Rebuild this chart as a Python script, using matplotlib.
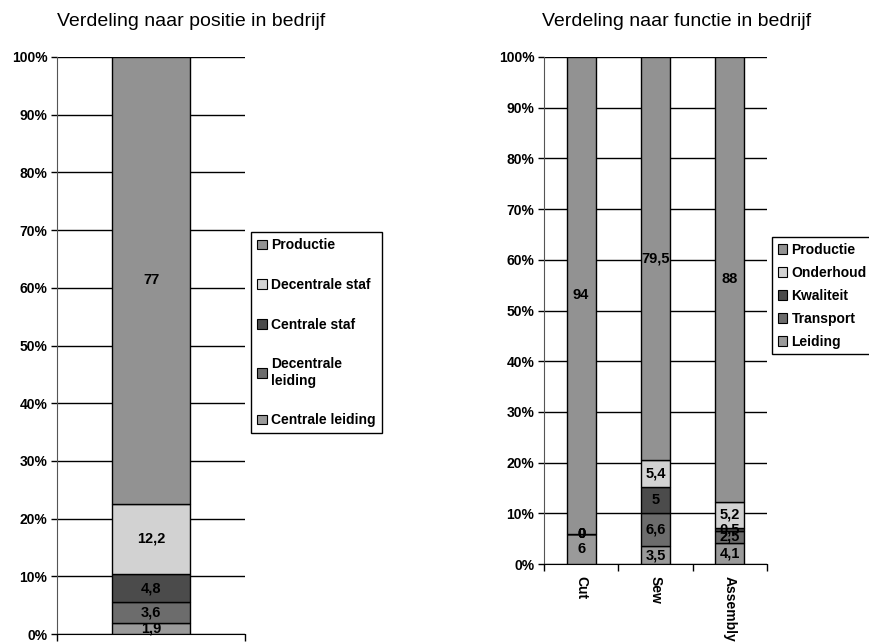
import matplotlib
matplotlib.use('Agg')
import matplotlib.pyplot as plt
from matplotlib.patches import Patch
import numpy as np

plt.rcParams['font.family'] = ['Liberation Sans', 'DejaVu Sans']

# positie in bedrijf (one stacked column)
pos_series = ['Centrale leiding', 'Decentrale leiding', 'Centrale staf', 'Decentrale staf', 'Productie']
pos_legend = ['Centrale leiding', 'Decentrale\nleiding', 'Centrale staf', 'Decentrale staf', 'Productie']
pos_values = [1.9, 3.6, 4.8, 12.2, 77]

# functie in bedrijf
func_cats = ['Cut', 'Sew', 'Assembly']
func_series = ['Leiding', 'Transport', 'Kwaliteit', 'Onderhoud', 'Productie']
leiding = [6, 3.5, 4.1]
transport = [0, 6.6, 2.5]
kwaliteit = [0, 5, 0.5]
onderhoud = [0, 5.4, 5.2]
productie = [94, 79.5, 88]

colors = ['#9a9a9a', '#6c6c6c', '#4b4b4b', '#d2d2d2', '#929292']
yticks = np.arange(0, 1.01, 0.1)


def fmt(v):
    return f'{v:g}'.replace('.', ',')


def style_axes(ax, ncat):
    ax.set_ylim(0, 1)
    ax.set_xlim(-0.5, ncat - 0.5)
    ax.set_yticks(yticks)
    ax.set_yticklabels([f'{int(round(t * 100))}%' for t in yticks],
                       fontsize=10, fontweight='bold')
    ax.yaxis.grid(True, color='black', linewidth=1)
    ax.set_axisbelow(True)
    for s in ['top', 'right']:
        ax.spines[s].set_visible(False)
    ax.spines['left'].set_color('#555555')
    ax.tick_params(axis='y', length=4, width=1, pad=3)
    ax.set_xticks(np.arange(-0.5, ncat), minor=True)
    ax.tick_params(axis='x', which='minor', length=5, width=1, direction='out')
    ax.tick_params(axis='x', which='major', length=0)


def stack(ax, x, data, width):
    data = np.array(data, dtype=float)
    totals = data.sum(axis=0)
    bottom = np.zeros(data.shape[1])
    for vals, c in zip(data, colors):
        h = vals / totals
        bars = ax.bar(x, h, width, bottom=bottom, color=c,
                      edgecolor='black', linewidth=1, zorder=3)
        ax.bar_label(bars, labels=[fmt(v) for v in vals], label_type='center',
                     fontsize=10.5, fontweight='bold', zorder=4)
        bottom += h


fig = plt.figure(figsize=(8.7, 6.44), dpi=100)

ax1 = fig.add_axes([57 / 870, 10 / 644, 188 / 870, 577 / 644])
stack(ax1, [0], [[v] for v in pos_values], 0.41)
style_axes(ax1, 1)
ax1.set_xticks([0])
ax1.set_xticklabels([''])

ax2 = fig.add_axes([544 / 870, 80 / 644, 223 / 870, 507 / 644])
stack(ax2, np.arange(3), [leiding, transport, kwaliteit, onderhoud, productie], 0.39)
style_axes(ax2, 3)
ax2.set_xticks(np.arange(3))
ax2.set_xticklabels(func_cats, rotation=-90, fontsize=10, fontweight='bold',
                    va='top', ha='center')
ax2.tick_params(axis='x', which='major', pad=9)

fig.text(191 / 870, 1 - 22 / 644, 'Verdeling naar positie in bedrijf',
         ha='center', va='center', fontsize=14)
fig.text(677 / 870, 1 - 22 / 644, 'Verdeling naar functie in bedrijf',
         ha='center', va='center', fontsize=14)

h1 = [Patch(facecolor=c, edgecolor='black', linewidth=0.8) for c in colors][::-1]
leg1 = fig.legend(h1, pos_legend[::-1], loc='upper left',
                  bbox_to_anchor=(251 / 870, 1 - 232 / 644), borderaxespad=0,
                  prop={'size': 10, 'weight': 'bold'}, labelspacing=1.85,
                  handlelength=0.7, handleheight=0.7, handletextpad=0.3,
                  borderpad=0.45, fancybox=False, edgecolor='black',
                  framealpha=1)
leg1.get_frame().set_linewidth(1)

h2 = [Patch(facecolor=c, edgecolor='black', linewidth=0.8) for c in colors][::-1]
leg2 = fig.legend(h2, func_series[::-1], loc='upper left',
                  bbox_to_anchor=(772 / 870, 1 - 237 / 644), borderaxespad=0,
                  prop={'size': 10, 'weight': 'bold'}, labelspacing=0.65,
                  handlelength=0.7, handleheight=0.7, handletextpad=0.3,
                  borderpad=0.4, fancybox=False, edgecolor='black',
                  framealpha=1)
leg2.get_frame().set_linewidth(1)

fig.savefig('out.png', dpi=100)
